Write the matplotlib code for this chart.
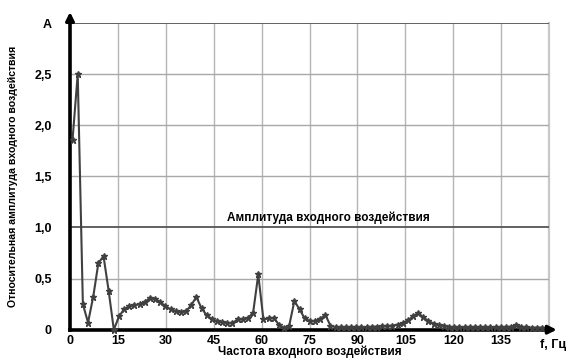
import numpy as np
import matplotlib.pyplot as plt

plt.rcParams["font.family"] = ["Liberation Sans", "DejaVu Sans"]
plt.rcParams["font.weight"] = "bold"

# Частоты отсчётов (равный шаг), Гц
freq = np.linspace(0.8, 147.8, 92)

# Относительная амплитуда
amp = [
    1.86, 2.50, 0.25, 0.07, 0.32, 0.65, 0.72, 0.38, 0.00, 0.13,
    0.20, 0.23, 0.24, 0.25, 0.27, 0.31, 0.30, 0.27, 0.23, 0.20,
    0.18, 0.17, 0.18, 0.24, 0.32, 0.21, 0.14, 0.105, 0.082, 0.072,
    0.065, 0.065, 0.10, 0.10, 0.115, 0.165, 0.54, 0.10, 0.11, 0.115,
    0.05, 0.015, 0.04, 0.28, 0.20, 0.11, 0.085, 0.085, 0.105, 0.145,
    0.04, 0.025, 0.022, 0.022, 0.022, 0.024, 0.025, 0.026, 0.028, 0.03,
    0.032, 0.035, 0.04, 0.05, 0.065, 0.09, 0.13, 0.165, 0.12, 0.085,
    0.06, 0.045, 0.035, 0.028, 0.025, 0.022, 0.022, 0.022, 0.022, 0.022,
    0.022, 0.022, 0.022, 0.022, 0.025, 0.03, 0.045, 0.03, 0.022, 0.02,
    0.02, 0.02,
]

yticks = [0, 0.5, 1.0, 1.5, 2.0, 2.5, 3.0]
ylabels = ["0", "0,5", "1,0", "1,5", "2,0", "2,5", "A"]
xticks = [0, 15, 30, 45, 60, 75, 90, 105, 120, 135]

fig = plt.figure(figsize=(5.76, 3.59), dpi=100)
ax = fig.add_axes([70 / 576, 29.3 / 359, 479 / 576, 306.7 / 359])

ax.set_xlim(0, 150)
ax.set_ylim(0, 3.0)

# сетка
for x in xticks[1:]:
    ax.axvline(x, color="#b5b5b5", lw=1.0, zorder=1)
ax.axvline(150, color="#c8c8c8", lw=1.6, zorder=1, clip_on=False)
for y in [0.5, 1.5, 2.0, 2.5]:
    ax.axhline(y, color="#a8a8a8", lw=1.0, zorder=1)
for y in [1.0, 3.0]:
    ax.axhline(y, color="#555555", lw=1.3, zorder=1)

ax.plot(freq, amp, color="#404040", lw=1.5, marker="*", ms=4.5,
        mec="#404040", mfc="#404040", zorder=3, clip_on=False)

ax.text(81, 1.03, "Амплитуда входного воздействия", ha="center", va="bottom",
        fontsize=8.5, fontweight="bold")

for s in ["top", "right"]:
    ax.spines[s].set_visible(False)
ax.spines["left"].set_linewidth(2.6)
ax.spines["bottom"].set_linewidth(2.6)

# стрелки осей
ax.annotate("", xy=(0, 1.045), xytext=(0, 0.99), xycoords="axes fraction",
            arrowprops=dict(arrowstyle="-|>", color="black", lw=2.4,
                            mutation_scale=12))
ax.annotate("", xy=(1.022, 0), xytext=(0.99, 0), xycoords="axes fraction",
            arrowprops=dict(arrowstyle="-|>", color="black", lw=2.4,
                            mutation_scale=12))

ax.set_yticks(yticks)
ax.set_yticklabels(ylabels)
ax.set_xticks(xticks)
ax.set_xticklabels([str(x) for x in xticks])
ax.tick_params(length=0, labelsize=9)
ax.tick_params(axis="y", pad=13)
ax.tick_params(axis="x", pad=4)

ax.text(0.982, -0.03, "f, Гц", transform=ax.transAxes, ha="left", va="top",
        fontsize=9, fontweight="bold")

ax.set_xlabel("Частота входного воздействия", fontsize=8.5, fontweight="bold",
              labelpad=-1)
ax.set_ylabel("Относительная амплитуда входного воздействия", fontsize=7.6,
              fontweight="bold", labelpad=12)

fig.savefig("out.png", dpi=100)
